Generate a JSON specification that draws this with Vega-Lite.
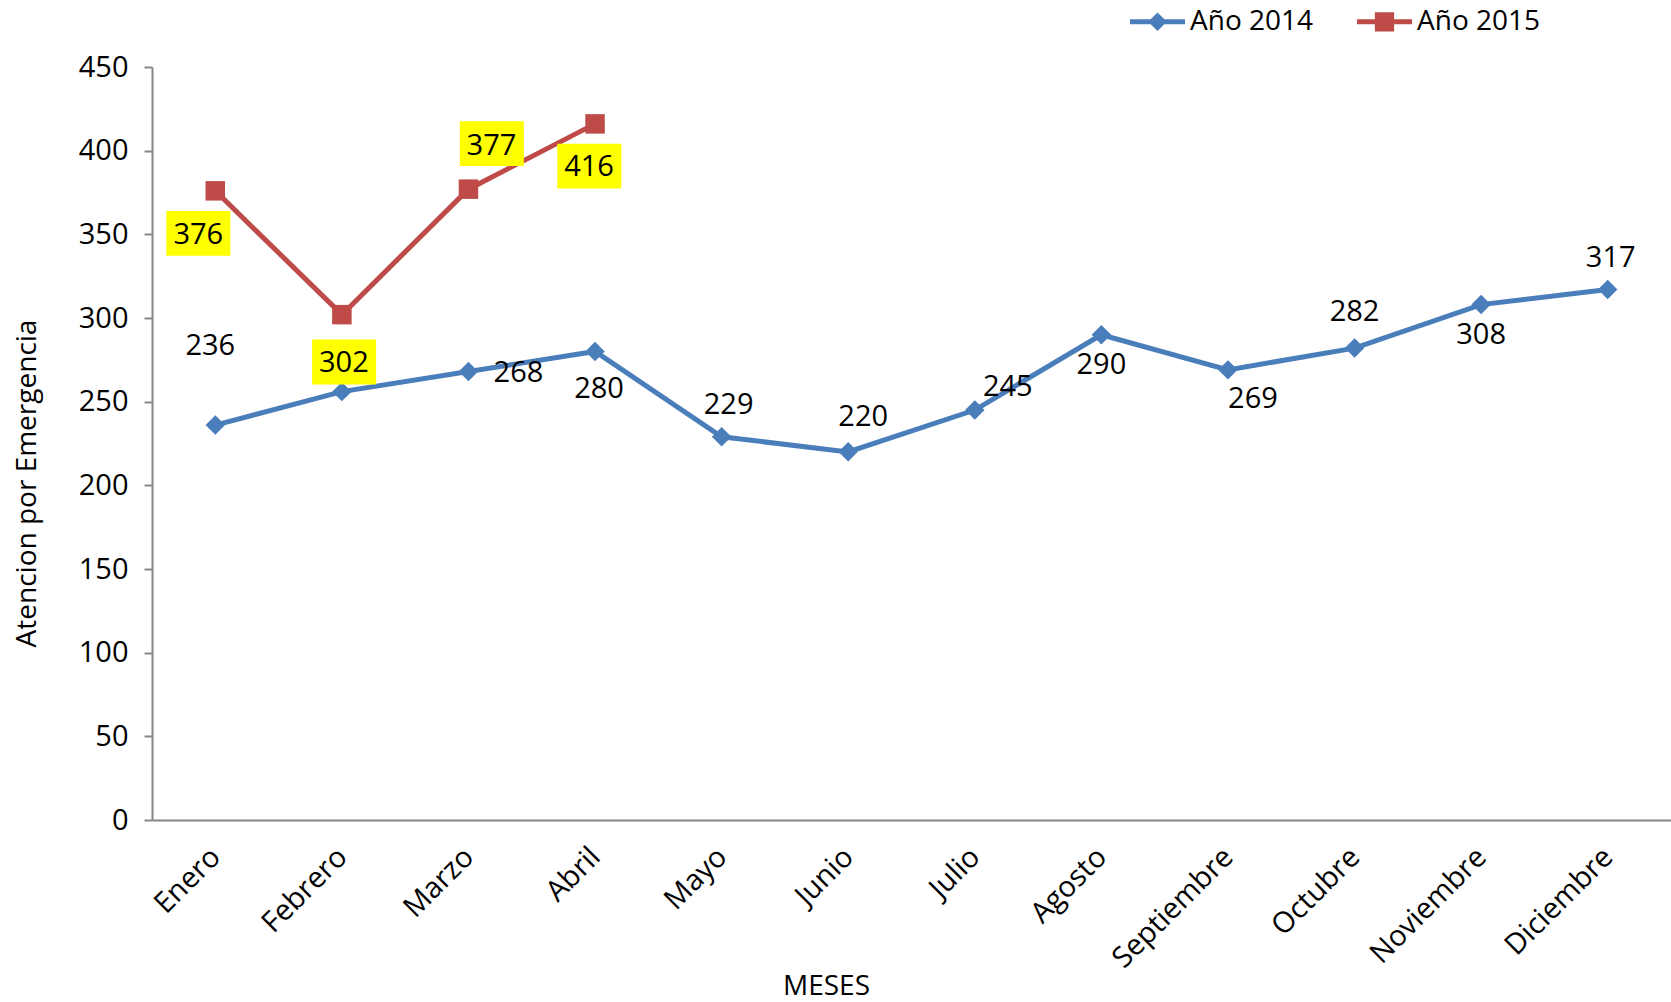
{
 "$schema": "https://vega.github.io/schema/vega-lite/v6.json",
 "width": 1519,
 "height": 753,
 "autosize": {"type": "none"},
 "padding": {"left": 152, "top": 67, "right": 0, "bottom": 182},
 "background": "white",
 "config": {"view": {"stroke": null}, "font": "Open Sans"},
 "data": {"values": [
  {"mes": "Enero", "serie": "Año 2014", "valor": 236},
  {"mes": "Febrero", "serie": "Año 2014", "valor": 256},
  {"mes": "Marzo", "serie": "Año 2014", "valor": 268},
  {"mes": "Abril", "serie": "Año 2014", "valor": 280},
  {"mes": "Mayo", "serie": "Año 2014", "valor": 229},
  {"mes": "Junio", "serie": "Año 2014", "valor": 220},
  {"mes": "Julio", "serie": "Año 2014", "valor": 245},
  {"mes": "Agosto", "serie": "Año 2014", "valor": 290},
  {"mes": "Septiembre", "serie": "Año 2014", "valor": 269},
  {"mes": "Octubre", "serie": "Año 2014", "valor": 282},
  {"mes": "Noviembre", "serie": "Año 2014", "valor": 308},
  {"mes": "Diciembre", "serie": "Año 2014", "valor": 317},
  {"mes": "Enero", "serie": "Año 2015", "valor": 376},
  {"mes": "Febrero", "serie": "Año 2015", "valor": 302},
  {"mes": "Marzo", "serie": "Año 2015", "valor": 377},
  {"mes": "Abril", "serie": "Año 2015", "valor": 416}
 ]},
 "encoding": {
  "x": {"field": "mes", "type": "nominal",
   "sort": ["Enero","Febrero","Marzo","Abril","Mayo","Junio","Julio","Agosto","Septiembre","Octubre","Noviembre","Diciembre"],
   "scale": {"type": "point", "padding": 0.5},
   "axis": {"title": "MESES", "titleFont": "Open Sans", "titleFontSize": 28, "titleFontWeight": "normal", "titleColor": "black",
    "titleX": 674, "titleY": 166, "titleAlign": "center", "titleBaseline": "middle",
    "labelAngle": -45, "labelAlign": "right", "labelBaseline": "middle", "labelPadding": 32,
    "labelFont": "Open Sans", "labelFontSize": 29, "labelColor": "black",
    "ticks": false, "domainColor": "#868686", "domainWidth": 2, "grid": false}},
  "y": {"field": "valor", "type": "quantitative",
   "scale": {"domain": [0, 450], "nice": false, "zero": true},
   "axis": {"title": "Atencion por Emergencia", "titleFont": "Open Sans", "titleFontSize": 28, "titleFontWeight": "normal", "titleColor": "black",
    "titleX": -125, "titleY": 416, "titleAngle": -90, "titleAlign": "center", "titleBaseline": "middle",
    "values": [0,50,100,150,200,250,300,350,400,450],
    "labelFont": "Open Sans", "labelFontSize": 29, "labelColor": "black", "labelPadding": 16,
    "tickSize": 8, "tickColor": "#868686", "tickWidth": 2, "domainColor": "#868686", "domainWidth": 2, "grid": false}}
 },
 "layer": [
  {"mark": {"type": "line", "strokeWidth": 5},
   "encoding": {"color": {"field": "serie", "type": "nominal",
    "scale": {"domain": ["Año 2014", "Año 2015"], "range": ["#4A7EBB", "#BE4B48"]},
    "legend": {"orient": "none", "legendX": 978, "legendY": -73, "direction": "horizontal", "title": null,
     "symbolSize": 3025, "labelFontSize": 28, "labelFont": "Open Sans", "labelColor": "black",
     "labelOffset": 5, "columnPadding": 43, "padding": 0,
     "encode": {"symbols": {"update": {
      "shape": {"signal": "datum.value === 'Año 2014' ? 'M-1,-0.09L1,-0.09L1,0.09L-1,0.09ZM0,-0.34L0.34,0L0,0.34L-0.34,0Z' : 'M-1,-0.09L1,-0.09L1,0.09L-1,0.09ZM-0.35,-0.35L0.35,-0.35L0.35,0.35L-0.35,0.35Z'"},
      "fill": {"signal": "scale('color', datum.value)"},
      "stroke": {"value": "transparent"},
      "strokeWidth": {"value": 0},
      "opacity": {"value": 1}}}}}}}},
  {"transform": [{"filter": "datum.serie === 'Año 2014'"}],
   "mark": {"type": "point", "shape": "diamond", "filled": true, "color": "#4A7EBB", "opacity": 1, "size": 380}},
  {"transform": [{"filter": "datum.serie === 'Año 2015'"}],
   "mark": {"type": "point", "shape": "square", "filled": true, "color": "#BE4B48", "opacity": 1, "size": 380}},
  {"transform": [{"filter": "datum.serie === 'Año 2014' && datum.mes === 'Enero'"}],
   "mark": {"type": "text", "dx": -5, "dy": -79, "fontSize": 29, "font": "Open Sans", "color": "black", "baseline": "middle"},
   "encoding": {"text": {"field": "valor"}}},
  {"transform": [{"filter": "datum.serie === 'Año 2014' && datum.mes === 'Febrero'"}],
   "mark": {"type": "text", "dx": 2, "dy": -30, "fontSize": 29, "font": "Open Sans", "color": "black", "baseline": "middle"},
   "encoding": {"text": {"field": "valor"}}},
  {"transform": [{"filter": "datum.serie === 'Año 2014' && datum.mes === 'Marzo'"}],
   "mark": {"type": "text", "dx": 50, "dy": 1, "fontSize": 29, "font": "Open Sans", "color": "black", "baseline": "middle"},
   "encoding": {"text": {"field": "valor"}}},
  {"transform": [{"filter": "datum.serie === 'Año 2014' && datum.mes === 'Abril'"}],
   "mark": {"type": "text", "dx": 4, "dy": 38, "fontSize": 29, "font": "Open Sans", "color": "black", "baseline": "middle"},
   "encoding": {"text": {"field": "valor"}}},
  {"transform": [{"filter": "datum.serie === 'Año 2014' && datum.mes === 'Mayo'"}],
   "mark": {"type": "text", "dx": 7, "dy": -32, "fontSize": 29, "font": "Open Sans", "color": "black", "baseline": "middle"},
   "encoding": {"text": {"field": "valor"}}},
  {"transform": [{"filter": "datum.serie === 'Año 2014' && datum.mes === 'Junio'"}],
   "mark": {"type": "text", "dx": 15, "dy": -35, "fontSize": 29, "font": "Open Sans", "color": "black", "baseline": "middle"},
   "encoding": {"text": {"field": "valor"}}},
  {"transform": [{"filter": "datum.serie === 'Año 2014' && datum.mes === 'Julio'"}],
   "mark": {"type": "text", "dx": 33, "dy": -23, "fontSize": 29, "font": "Open Sans", "color": "black", "baseline": "middle"},
   "encoding": {"text": {"field": "valor"}}},
  {"transform": [{"filter": "datum.serie === 'Año 2014' && datum.mes === 'Agosto'"}],
   "mark": {"type": "text", "dx": 0, "dy": 30, "fontSize": 29, "font": "Open Sans", "color": "black", "baseline": "middle"},
   "encoding": {"text": {"field": "valor"}}},
  {"transform": [{"filter": "datum.serie === 'Año 2014' && datum.mes === 'Septiembre'"}],
   "mark": {"type": "text", "dx": 25, "dy": 29, "fontSize": 29, "font": "Open Sans", "color": "black", "baseline": "middle"},
   "encoding": {"text": {"field": "valor"}}},
  {"transform": [{"filter": "datum.serie === 'Año 2014' && datum.mes === 'Octubre'"}],
   "mark": {"type": "text", "dx": 0, "dy": -36, "fontSize": 29, "font": "Open Sans", "color": "black", "baseline": "middle"},
   "encoding": {"text": {"field": "valor"}}},
  {"transform": [{"filter": "datum.serie === 'Año 2014' && datum.mes === 'Noviembre'"}],
   "mark": {"type": "text", "dx": 0, "dy": 30, "fontSize": 29, "font": "Open Sans", "color": "black", "baseline": "middle"},
   "encoding": {"text": {"field": "valor"}}},
  {"transform": [{"filter": "datum.serie === 'Año 2014' && datum.mes === 'Diciembre'"}],
   "mark": {"type": "text", "dx": 3, "dy": -32, "fontSize": 29, "font": "Open Sans", "color": "black", "baseline": "middle"},
   "encoding": {"text": {"field": "valor"}}},
  {"transform": [{"filter": "datum.serie === 'Año 2015'"}],
   "mark": {"type": "point", "filled": true, "color": "#FFFF00", "opacity": 1, "size": 4096, "strokeWidth": 0},
   "encoding": {"shape": {"field": "mes", "type": "nominal",
    "scale": {"domain": ["Enero", "Febrero", "Marzo", "Abril"],
     "range": ["M-1.53,0.63L0.47,0.63L0.47,2.03L-1.53,2.03Z", "M-0.93,0.78L1.07,0.78L1.07,2.18L-0.93,2.18Z", "M-0.27,-2.12L1.73,-2.12L1.73,-0.72L-0.27,-0.72Z", "M-1.18,0.62L0.82,0.62L0.82,2.02L-1.18,2.02Z"]},
    "legend": null}}},
  {"transform": [{"filter": "datum.serie === 'Año 2015' && datum.mes === 'Enero'"}],
   "mark": {"type": "text", "dx": -17, "dy": 44, "fontSize": 29, "font": "Open Sans", "color": "black", "baseline": "middle"},
   "encoding": {"text": {"field": "valor"}}},
  {"transform": [{"filter": "datum.serie === 'Año 2015' && datum.mes === 'Febrero'"}],
   "mark": {"type": "text", "dx": 2, "dy": 48, "fontSize": 29, "font": "Open Sans", "color": "black", "baseline": "middle"},
   "encoding": {"text": {"field": "valor"}}},
  {"transform": [{"filter": "datum.serie === 'Año 2015' && datum.mes === 'Marzo'"}],
   "mark": {"type": "text", "dx": 23, "dy": -43, "fontSize": 29, "font": "Open Sans", "color": "black", "baseline": "middle"},
   "encoding": {"text": {"field": "valor"}}},
  {"transform": [{"filter": "datum.serie === 'Año 2015' && datum.mes === 'Abril'"}],
   "mark": {"type": "text", "dx": -6, "dy": 43, "fontSize": 29, "font": "Open Sans", "color": "black", "baseline": "middle"},
   "encoding": {"text": {"field": "valor"}}}
 ]
}
